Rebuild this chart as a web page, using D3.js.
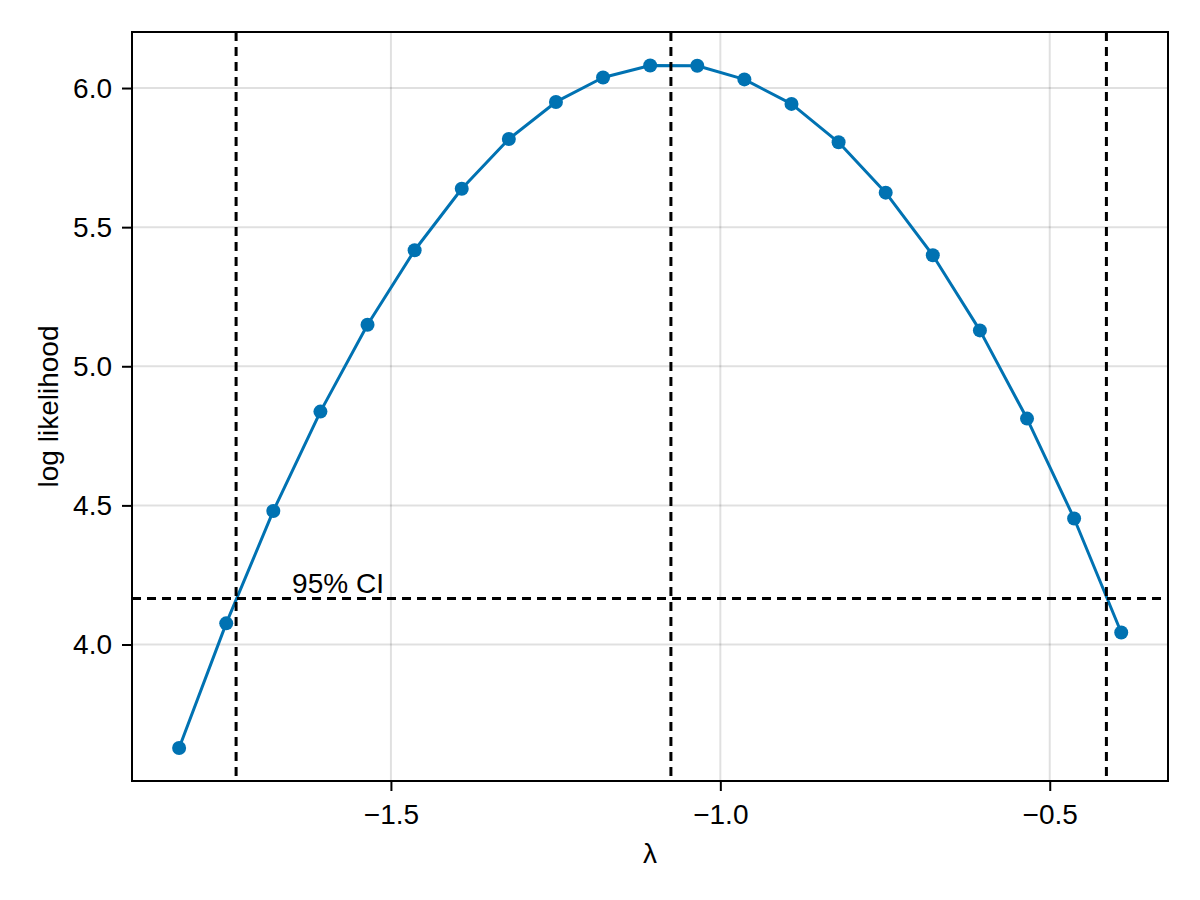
<!DOCTYPE html>
<html>
<head>
<meta charset="utf-8">
<script src="https://cdn.jsdelivr.net/npm/d3@7"></script>
<style>
  body { margin: 0; background: #fff; }
  text { font-family: "Liberation Sans", Arial, Helvetica, sans-serif; }
</style>
</head>
<body>
<div class="chart"></div>
<script>
var svgWidth = 1200;
var svgHeight = 900;

var margin = { top: 32, right: 32, bottom: 119, left: 132 };

var width = svgWidth - margin.left - margin.right;
var height = svgHeight - margin.top - margin.bottom;

// profile likelihood over lambda
var lambdas = [-1.8215, -1.750, -1.6785, -1.607, -1.5355, -1.464, -1.3925,
  -1.321, -1.2495, -1.178, -1.1065, -1.035, -0.9635, -0.892, -0.8205,
  -0.749, -0.6775, -0.606, -0.5345, -0.463, -0.3915];
var logLik = [3.628, 4.076, 4.480, 4.837, 5.149, 5.417, 5.638, 5.817, 5.950,
  6.038, 6.081, 6.080, 6.031, 5.943, 5.805, 5.624, 5.399, 5.129, 4.812,
  4.453, 4.043];

// confidence interval bounds and MLE (vertical), threshold (horizontal)
var vLines = [-1.735, -1.075, -0.414];
var hLines = [4.1655];
var ciLabel = { x: -1.650, y: 4.1655, text: "95% CI" };

var xTicks = [-1.5, -1.0, -0.5];
var yTicks = [4.0, 4.5, 5.0, 5.5, 6.0];

var color = "#0072b2";
var fontSize = 28;

var svg = d3.select(".chart")
  .append("svg")
  .attr("width", svgWidth)
  .attr("height", svgHeight);

var chartGroup = svg.append("g")
  .attr("transform", `translate(${margin.left}, ${margin.top})`);

var xScale = d3.scaleLinear()
  .domain([-1.893, -0.3205])
  .range([0, width]);

var yScale = d3.scaleLinear()
  .domain([3.5094, 6.2014])
  .range([height, 0]);

// grid
chartGroup.append("g")
  .selectAll("line")
  .data(xTicks)
  .enter()
  .append("line")
  .attr("x1", d => xScale(d))
  .attr("x2", d => xScale(d))
  .attr("y1", 0)
  .attr("y2", height)
  .attr("stroke", "rgba(0,0,0,0.12)")
  .attr("stroke-width", 2);

chartGroup.append("g")
  .selectAll("line")
  .data(yTicks)
  .enter()
  .append("line")
  .attr("y1", d => yScale(d))
  .attr("y2", d => yScale(d))
  .attr("x1", 0)
  .attr("x2", width)
  .attr("stroke", "rgba(0,0,0,0.12)")
  .attr("stroke-width", 2);

// axes
var bottomAxis = d3.axisBottom(xScale)
  .tickValues(xTicks)
  .tickFormat(d3.format(".1f"))
  .tickSize(10)
  .tickPadding(13);

var leftAxis = d3.axisLeft(yScale)
  .tickValues(yTicks)
  .tickFormat(d3.format(".1f"))
  .tickSize(10)
  .tickPadding(10);

var xAxis = chartGroup.append("g")
  .attr("transform", `translate(0, ${height})`)
  .call(bottomAxis);

var yAxis = chartGroup.append("g")
  .call(leftAxis);

[xAxis, yAxis].forEach(function(ax) {
  ax.select(".domain").remove();
  ax.selectAll(".tick line").attr("stroke", "#000").attr("stroke-width", 2);
  ax.selectAll(".tick text")
    .attr("fill", "#000")
    .style("font-size", fontSize + "px")
    .style("font-family", "'Liberation Sans', Arial, sans-serif");
});

// frame
chartGroup.append("rect")
  .attr("x", 0)
  .attr("y", 0)
  .attr("width", width)
  .attr("height", height)
  .attr("fill", "none")
  .attr("stroke", "#000")
  .attr("stroke-width", 2);

// line + markers
var line = d3.line()
  .x((d, i) => xScale(lambdas[i]))
  .y(d => yScale(d));

chartGroup.append("path")
  .datum(logLik)
  .attr("d", line)
  .attr("fill", "none")
  .attr("stroke", color)
  .attr("stroke-width", 3)
  .attr("stroke-linejoin", "round");

chartGroup.selectAll("circle")
  .data(logLik)
  .enter()
  .append("circle")
  .attr("cx", (d, i) => xScale(lambdas[i]))
  .attr("cy", d => yScale(d))
  .attr("r", 7)
  .attr("fill", color);

// dashed reference lines
chartGroup.append("g")
  .selectAll("line")
  .data(vLines)
  .enter()
  .append("line")
  .attr("x1", d => xScale(d))
  .attr("x2", d => xScale(d))
  .attr("y1", 0)
  .attr("y2", height)
  .attr("stroke", "#000")
  .attr("stroke-width", 3)
  .attr("stroke-dasharray", "9,6");

chartGroup.append("g")
  .selectAll("line")
  .data(hLines)
  .enter()
  .append("line")
  .attr("y1", d => yScale(d))
  .attr("y2", d => yScale(d))
  .attr("x1", 0)
  .attr("x2", width)
  .attr("stroke", "#000")
  .attr("stroke-width", 3)
  .attr("stroke-dasharray", "9,6");

chartGroup.append("text")
  .attr("x", xScale(ciLabel.x))
  .attr("y", yScale(ciLabel.y) - 5)
  .attr("font-size", fontSize + "px")
  .attr("fill", "#000")
  .text(ciLabel.text);

// axis labels
chartGroup.append("text")
  .attr("x", width / 2)
  .attr("y", height + 82)
  .attr("text-anchor", "middle")
  .attr("font-size", fontSize + "px")
  .text("λ");

chartGroup.append("text")
  .attr("transform", "rotate(-90)")
  .attr("x", -height / 2)
  .attr("y", -74)
  .attr("text-anchor", "middle")
  .attr("font-size", fontSize + "px")
  .text("log likelihood");
</script>
</body>
</html>
